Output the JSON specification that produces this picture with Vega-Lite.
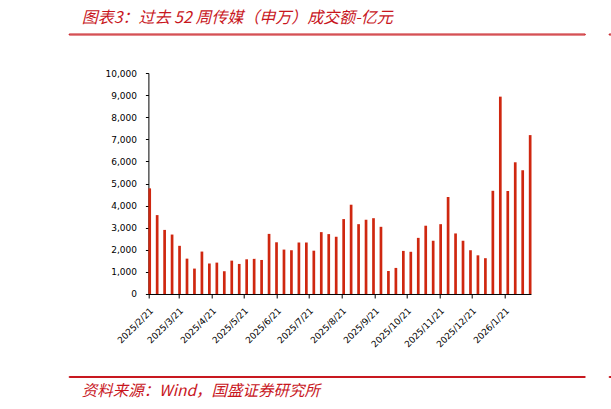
{
  "$schema": "https://vega.github.io/schema/vega-lite/v6.json",
  "padding": {"left": 67.7, "top": 9.5, "right": 0, "bottom": 0},
  "background": "white",
  "bounds": "flush",
  "spacing": 39.5,
  "config": {
    "view": {"stroke": null},
    "font": "DejaVu Sans",
    "title": {"font": "Noto Sans CJK SC"}
  },
  "vconcat": [
    {
      "bounds": "flush",
      "spacing": 24,
      "hconcat": [
        {
          "width": 516,
          "height": 1,
          "view": {"stroke": "#c8161d", "strokeWidth": 1, "fill": null},
          "title": {
            "text": "图表3：过去 52 周传媒（申万）成交额-亿元",
            "anchor": "start",
            "orient": "top",
            "fontSize": 16,
            "fontStyle": "italic",
            "fontWeight": "normal",
            "color": "#c8161d",
            "dx": 13,
            "offset": 2
          },
          "data": {"values": [{}]},
          "mark": {"type": "text"},
          "encoding": {"text": {"value": ""}}
        },
        {
          "width": 40,
          "height": 1,
          "view": {"stroke": "#c8161d", "strokeWidth": 1, "fill": null},
          "data": {"values": [{}]},
          "mark": {"type": "text"},
          "encoding": {"text": {"value": ""}}
        }
      ]
    },
    {
      "width": 462.3,
      "height": 221,
      "data": {
        "values": [
          {"date": "2025/02/21", "value": 4780},
          {"date": "2025/02/28", "value": 3570},
          {"date": "2025/03/07", "value": 2900},
          {"date": "2025/03/14", "value": 2690},
          {"date": "2025/03/21", "value": 2180},
          {"date": "2025/03/28", "value": 1600},
          {"date": "2025/04/04", "value": 1150},
          {"date": "2025/04/11", "value": 1920},
          {"date": "2025/04/18", "value": 1380},
          {"date": "2025/04/25", "value": 1420},
          {"date": "2025/05/02", "value": 1030},
          {"date": "2025/05/09", "value": 1510},
          {"date": "2025/05/16", "value": 1360},
          {"date": "2025/05/23", "value": 1570},
          {"date": "2025/05/30", "value": 1590},
          {"date": "2025/06/06", "value": 1540},
          {"date": "2025/06/13", "value": 2720},
          {"date": "2025/06/20", "value": 2340},
          {"date": "2025/06/27", "value": 2010},
          {"date": "2025/07/04", "value": 1980},
          {"date": "2025/07/11", "value": 2330},
          {"date": "2025/07/18", "value": 2330},
          {"date": "2025/07/25", "value": 1960},
          {"date": "2025/08/01", "value": 2800},
          {"date": "2025/08/08", "value": 2710},
          {"date": "2025/08/15", "value": 2590},
          {"date": "2025/08/22", "value": 3390},
          {"date": "2025/08/29", "value": 4040},
          {"date": "2025/09/05", "value": 3160},
          {"date": "2025/09/12", "value": 3360},
          {"date": "2025/09/19", "value": 3430},
          {"date": "2025/09/26", "value": 3040},
          {"date": "2025/10/03", "value": 1040},
          {"date": "2025/10/10", "value": 1180},
          {"date": "2025/10/17", "value": 1950},
          {"date": "2025/10/24", "value": 1910},
          {"date": "2025/10/31", "value": 2540},
          {"date": "2025/11/07", "value": 3090},
          {"date": "2025/11/14", "value": 2410},
          {"date": "2025/11/21", "value": 3160},
          {"date": "2025/11/28", "value": 4390},
          {"date": "2025/12/05", "value": 2740},
          {"date": "2025/12/12", "value": 2410},
          {"date": "2025/12/19", "value": 1980},
          {"date": "2025/12/26", "value": 1750},
          {"date": "2026/01/02", "value": 1620},
          {"date": "2026/01/09", "value": 4670},
          {"date": "2026/01/16", "value": 8930},
          {"date": "2026/01/23", "value": 4660},
          {"date": "2026/01/30", "value": 5960},
          {"date": "2026/02/06", "value": 5600},
          {"date": "2026/02/13", "value": 7190}
        ]
      },
      "mark": {"type": "bar", "size": 2.7, "xOffset": 1.3, "color": "#cf2710"},
      "encoding": {
        "x": {
          "field": "date",
          "type": "temporal",
          "scale": {
            "domain": [
              {"year": 2025, "month": 2, "date": 21},
              {"year": 2026, "month": 2, "date": 15}
            ],
            "range": [79.7, 462.3],
            "padding": 0,
            "nice": false
          },
          "axis": {
            "title": null,
            "grid": false,
            "values": [
              {"year": 2025, "month": 2, "date": 21},
              {"year": 2025, "month": 3, "date": 21},
              {"year": 2025, "month": 4, "date": 21},
              {"year": 2025, "month": 5, "date": 21},
              {"year": 2025, "month": 6, "date": 21},
              {"year": 2025, "month": 7, "date": 21},
              {"year": 2025, "month": 8, "date": 21},
              {"year": 2025, "month": 9, "date": 21},
              {"year": 2025, "month": 10, "date": 21},
              {"year": 2025, "month": 11, "date": 21},
              {"year": 2025, "month": 12, "date": 21},
              {"year": 2026, "month": 1, "date": 21}
            ],
            "format": "%Y/%-m/%-d",
            "labelAngle": -45,
            "labelFontSize": 9,
            "labelColor": "#000000",
            "labelPadding": 8,
            "labelOverlap": false,
            "domainColor": "#000000",
            "tickColor": "#000000",
            "tickSize": 4
          }
        },
        "y": {
          "field": "value",
          "type": "quantitative",
          "scale": {"domain": [0, 10000], "nice": false},
          "axis": {
            "title": null,
            "grid": false,
            "offset": -79.7,
            "values": [0, 1000, 2000, 3000, 4000, 5000, 6000, 7000, 8000, 9000, 10000],
            "format": ",.0f",
            "labelFontSize": 9,
            "labelColor": "#000000",
            "labelPadding": 9,
            "domainColor": "#000000",
            "tickColor": "#000000",
            "tickSize": 3
          }
        }
      }
    },
    {
      "width": 100,
      "height": 2.6,
      "data": {"values": [{}]},
      "mark": {"type": "text"},
      "encoding": {"text": {"value": ""}}
    },
    {
      "bounds": "flush",
      "spacing": 24,
      "hconcat": [
        {
          "width": 516,
          "height": 1,
          "view": {"stroke": "#c8161d", "strokeWidth": 1, "fill": null},
          "title": {
            "text": "资料来源：Wind，国盛证券研究所",
            "anchor": "start",
            "orient": "bottom",
            "fontSize": 15.5,
            "fontStyle": "italic",
            "fontWeight": "normal",
            "color": "#c8161d",
            "dx": 13,
            "offset": 3
          },
          "data": {"values": [{}]},
          "mark": {"type": "text"},
          "encoding": {"text": {"value": ""}}
        },
        {
          "width": 40,
          "height": 1,
          "view": {"stroke": "#c8161d", "strokeWidth": 1, "fill": null},
          "data": {"values": [{}]},
          "mark": {"type": "text"},
          "encoding": {"text": {"value": ""}}
        }
      ]
    }
  ]
}
